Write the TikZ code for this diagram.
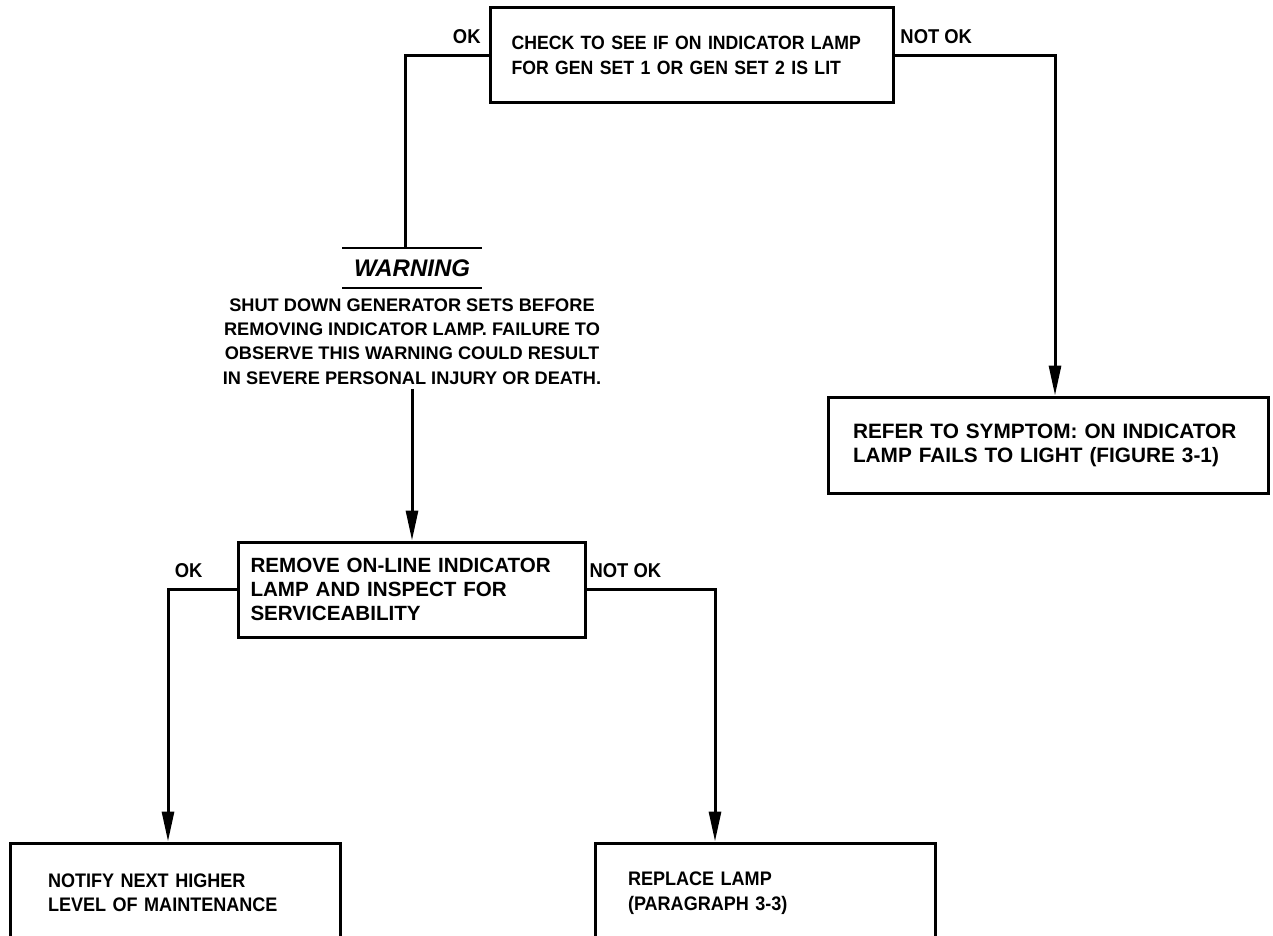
\documentclass[tikz,border=0pt]{standalone}
\usepackage{fontspec}
\setmainfont{Liberation Sans}
\newfontfamily\boxfont[FakeStretch=0.92]{Liberation Sans}
\newfontfamily\widefont{Liberation Sans}
\usetikzlibrary{arrows.meta,positioning}

\tikzset{
  line/.style={line width=1.5pt},
  arrow/.style={line, -{Triangle[length=15pt,width=6pt]}},
  box/.style={draw, line width=1.5pt, align=left},
  txt/.style={font=\boxfont\bfseries\fontsize{#1}{12.2}\selectfont},
  wtxt/.style={font=\widefont\bfseries\fontsize{#1}{12}\selectfont},
  lbl/.style={font=\boxfont\bfseries\fontsize{10}{11}\selectfont, inner sep=1pt}
}

\begin{document}
\begin{tikzpicture}[x=0.5pt,y=-0.5pt]
    \useasboundingbox (0,0) rectangle (1273,936);

    \node[box, txt=9.6, text width=180pt, inner xsep=10.75pt, minimum height=47.5pt] (check) at (691.5,55.5)
        {CHECK TO SEE IF ON INDICATOR LAMP\\FOR GEN SET 1 OR GEN SET 2 IS LIT};
    \node[box, wtxt=10.4, text width=195pt, inner xsep=12.5pt, minimum height=48pt] (refer) at (1048,445)
        {REFER TO SYMPTOM: ON INDICATOR\\LAMP FAILS TO LIGHT (FIGURE 3-1)};

    % warning block
    \node[minimum width=69.5pt, minimum height=20pt, inner sep=0pt,
        font=\bfseries\itshape\fontsize{12}{14}\selectfont] (warnhead) at (412,268) {WARNING};
    \draw[line width=1pt] (warnhead.north west) -- (warnhead.north east);
    \draw[line width=1pt] (warnhead.south west) -- (warnhead.south east);
    \node[align=center, inner sep=2pt, font=\bfseries\fontsize{9.1}{12.2}\selectfont] (warnbody) at (412,341.5)
        {SHUT DOWN GENERATOR SETS BEFORE\\REMOVING INDICATOR LAMP. FAILURE TO\\
         OBSERVE THIS WARNING COULD RESULT\\IN SEVERE PERSONAL INJURY OR DEATH.};

    \node[box, wtxt=10.3, text width=161.5pt, inner xsep=6pt, minimum height=47.5pt] (remove) at (412,589.5)
        {REMOVE ON-LINE INDICATOR\\LAMP AND INSPECT FOR\\SERVICEABILITY};
    \node[box, txt=9.8, text width=127pt, inner xsep=19pt, minimum height=50pt] (notify) at (175,893)
        {NOTIFY NEXT HIGHER\\LEVEL OF MAINTENANCE};
    \node[box, txt=9.8, text width=137pt, inner xsep=16.5pt, minimum height=50pt] (replace) at (765,893)
        {REPLACE LAMP\\(PARAGRAPH 3-3)};

    \draw[line] (check.west) -| node[lbl, pos=0.13, above=4pt] (okA) {OK}
        ([xshift=-3.5pt]warnhead.north);
    \draw[arrow] (check.east) -| node[lbl, pos=0.13, above=4pt] (notokA) {NOT OK}
        ([xshift=3.5pt]refer.north);
    \draw[arrow] (warnbody.south) -- (remove.north);
    \draw[arrow] (remove.west) -| node[lbl, pos=0.35, above=4pt] (okB) {OK}
        ([xshift=-3.5pt]notify.north);
    \draw[arrow] (remove.east) -| node[lbl, pos=0.15, above=4pt] (notokB) {NOT OK}
        ([xshift=-25pt]replace.north);
\end{tikzpicture}
\end{document}
